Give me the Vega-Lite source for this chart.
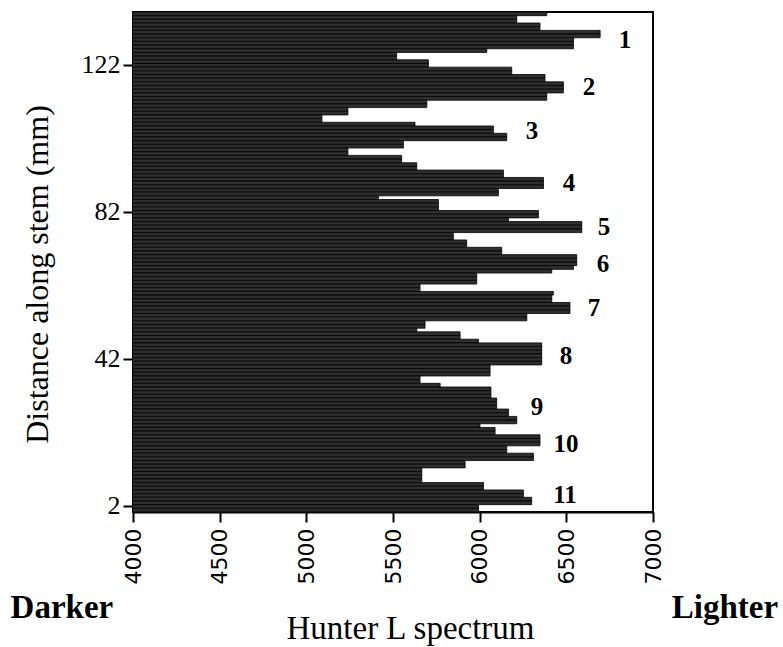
{
  "$schema": "https://vega.github.io/schema/vega-lite/v6.json",
  "autosize": {"type": "none"},
  "padding": {"left": 133, "top": 12, "right": 130, "bottom": 135},
  "width": 520,
  "height": 500,
  "background": "white",
  "config": {
    "view": {"stroke": "black", "strokeWidth": 2},
    "axis": {"domainColor": "black", "domainWidth": 2, "tickColor": "black", "tickWidth": 2, "tickSize": 10, "grid": false, "labelColor": "black", "titleColor": "black"},
    "axisY": {"labelFont": "Liberation Serif", "labelFontSize": 26, "labelPadding": 3}
  },
  "datasets": {
    "bars": [
      {"mm": 136, "L": 6387}, {"mm": 135, "L": 6214}, {"mm": 134, "L": 6214}, {"mm": 133, "L": 6348},
      {"mm": 132, "L": 6348}, {"mm": 131, "L": 6695}, {"mm": 130, "L": 6695}, {"mm": 129, "L": 6541},
      {"mm": 128, "L": 6541}, {"mm": 127, "L": 6541}, {"mm": 126, "L": 6041}, {"mm": 125, "L": 5521},
      {"mm": 124, "L": 5521}, {"mm": 123, "L": 5704}, {"mm": 122, "L": 5704}, {"mm": 121, "L": 6185},
      {"mm": 120, "L": 6185}, {"mm": 119, "L": 6377}, {"mm": 118, "L": 6377}, {"mm": 117, "L": 6483},
      {"mm": 116, "L": 6483}, {"mm": 115, "L": 6483}, {"mm": 114, "L": 6387}, {"mm": 113, "L": 6387},
      {"mm": 112, "L": 5695}, {"mm": 111, "L": 5695}, {"mm": 110, "L": 5240}, {"mm": 109, "L": 5240},
      {"mm": 108, "L": 5090}, {"mm": 107, "L": 5090}, {"mm": 106, "L": 5627}, {"mm": 105, "L": 6079},
      {"mm": 104, "L": 6079}, {"mm": 103, "L": 6156}, {"mm": 102, "L": 6156}, {"mm": 101, "L": 5560},
      {"mm": 100, "L": 5560}, {"mm": 99, "L": 5240}, {"mm": 98, "L": 5240}, {"mm": 97, "L": 5550},
      {"mm": 96, "L": 5550}, {"mm": 95, "L": 5637}, {"mm": 94, "L": 5637}, {"mm": 93, "L": 6137},
      {"mm": 92, "L": 6137}, {"mm": 91, "L": 6368}, {"mm": 90, "L": 6368}, {"mm": 89, "L": 6368},
      {"mm": 88, "L": 6108}, {"mm": 87, "L": 6108}, {"mm": 86, "L": 5416}, {"mm": 85, "L": 5762},
      {"mm": 84, "L": 5762}, {"mm": 83, "L": 5762}, {"mm": 82, "L": 6339}, {"mm": 81, "L": 6339},
      {"mm": 80, "L": 6166}, {"mm": 79, "L": 6589}, {"mm": 78, "L": 6589}, {"mm": 77, "L": 6589},
      {"mm": 76, "L": 5848}, {"mm": 75, "L": 5848}, {"mm": 74, "L": 5925}, {"mm": 73, "L": 5925},
      {"mm": 72, "L": 6127}, {"mm": 71, "L": 6127}, {"mm": 70, "L": 6560}, {"mm": 69, "L": 6560},
      {"mm": 68, "L": 6560}, {"mm": 67, "L": 6541}, {"mm": 66, "L": 6416}, {"mm": 65, "L": 5983},
      {"mm": 64, "L": 5983}, {"mm": 63, "L": 5983}, {"mm": 62, "L": 5656}, {"mm": 61, "L": 5656},
      {"mm": 60, "L": 6425}, {"mm": 59, "L": 6416}, {"mm": 58, "L": 6416}, {"mm": 57, "L": 6521},
      {"mm": 56, "L": 6521}, {"mm": 55, "L": 6521}, {"mm": 54, "L": 6272}, {"mm": 53, "L": 6272},
      {"mm": 52, "L": 5685}, {"mm": 51, "L": 5685}, {"mm": 50, "L": 5637}, {"mm": 49, "L": 5887},
      {"mm": 48, "L": 5887}, {"mm": 47, "L": 5993}, {"mm": 46, "L": 6358}, {"mm": 45, "L": 6358},
      {"mm": 44, "L": 6358}, {"mm": 43, "L": 6358}, {"mm": 42, "L": 6358}, {"mm": 41, "L": 6358},
      {"mm": 40, "L": 6060}, {"mm": 39, "L": 6060}, {"mm": 38, "L": 6060}, {"mm": 37, "L": 5656},
      {"mm": 36, "L": 5656}, {"mm": 35, "L": 5772}, {"mm": 34, "L": 6065}, {"mm": 33, "L": 6065},
      {"mm": 32, "L": 6065}, {"mm": 31, "L": 6098}, {"mm": 30, "L": 6098}, {"mm": 29, "L": 6098},
      {"mm": 28, "L": 6166}, {"mm": 27, "L": 6166}, {"mm": 26, "L": 6214}, {"mm": 25, "L": 6214},
      {"mm": 24, "L": 6002}, {"mm": 23, "L": 6089}, {"mm": 22, "L": 6089}, {"mm": 21, "L": 6348},
      {"mm": 20, "L": 6348}, {"mm": 19, "L": 6348}, {"mm": 18, "L": 6156}, {"mm": 17, "L": 6156},
      {"mm": 16, "L": 6310}, {"mm": 15, "L": 6310}, {"mm": 14, "L": 5916}, {"mm": 13, "L": 5916},
      {"mm": 12, "L": 5666}, {"mm": 11, "L": 5666}, {"mm": 10, "L": 5666}, {"mm": 9, "L": 5666},
      {"mm": 8, "L": 6022}, {"mm": 7, "L": 6022}, {"mm": 6, "L": 6252}, {"mm": 5, "L": 6252},
      {"mm": 4, "L": 6300}, {"mm": 3, "L": 6300}, {"mm": 2, "L": 5993}, {"mm": 1, "L": 5993}
    ],
    "labels": [
      {"mm": 129, "L": 6838, "t": "1"}, {"mm": 116, "L": 6631, "t": "2"}, {"mm": 104, "L": 6302, "t": "3"},
      {"mm": 90, "L": 6515, "t": "4"}, {"mm": 78, "L": 6717, "t": "5"}, {"mm": 68, "L": 6711, "t": "6"},
      {"mm": 56, "L": 6660, "t": "7"}, {"mm": 43, "L": 6498, "t": "8"}, {"mm": 29, "L": 6331, "t": "9"},
      {"mm": 19, "L": 6498, "t": "10"}, {"mm": 5, "L": 6492, "t": "11"}
    ],
    "ends": [
      {"mm": 1, "L": 3590, "t": "Darker"}, {"mm": 1, "L": 7415, "t": "Lighter"}
    ]
  },
  "layer": [
    {
      "data": {"name": "bars"},
      "mark": {"type": "bar", "fill": "#2e2e2e", "stroke": "black", "strokeWidth": 0.8, "clip": true},
      "encoding": {
        "y": {
          "field": "mm", "type": "ordinal", "sort": "descending",
          "scale": {"paddingInner": 0, "paddingOuter": 0},
          "axis": {"values": [2, 42, 82, 122],
                   "title": "Distance along stem (mm)", "titleFont": "Liberation Serif", "titleFontSize": 32, "titleFontWeight": "normal",
                   "titleX": -96, "titleY": 262, "titleAngle": -90, "titleAlign": "center", "titleBaseline": "middle"}
        },
        "x": {
          "field": "L", "type": "quantitative",
          "scale": {"domain": [4000, 7000], "zero": false, "nice": false},
          "axis": {"values": [4000, 4500, 5000, 5500, 6000, 6500, 7000], "format": "d", "labelAngle": 270, "labelFont": "DejaVu Sans", "labelFontSize": 22, "labelPadding": 6,
                   "title": "Hunter L spectrum", "titleFont": "Liberation Serif", "titleFontSize": 33, "titleFontWeight": "normal",
                   "titleX": 277, "titleY": 116, "titleAlign": "center", "titleBaseline": "middle"}
        }
      }
    },
    {
      "data": {"name": "labels"},
      "mark": {"type": "text", "font": "Liberation Serif", "fontWeight": "bold", "fontSize": 25, "color": "black", "baseline": "middle", "align": "center"},
      "encoding": {
        "y": {"field": "mm", "type": "ordinal", "sort": "descending"},
        "x": {"field": "L", "type": "quantitative"},
        "text": {"field": "t"}
      }
    },
    {
      "data": {"name": "ends"},
      "mark": {"type": "text", "font": "Liberation Serif", "fontWeight": "bold", "fontSize": 33, "color": "black", "baseline": "middle", "align": "center", "dy": 98},
      "encoding": {
        "y": {"field": "mm", "type": "ordinal", "sort": "descending"},
        "x": {"field": "L", "type": "quantitative"},
        "text": {"field": "t"}
      }
    }
  ]
}
